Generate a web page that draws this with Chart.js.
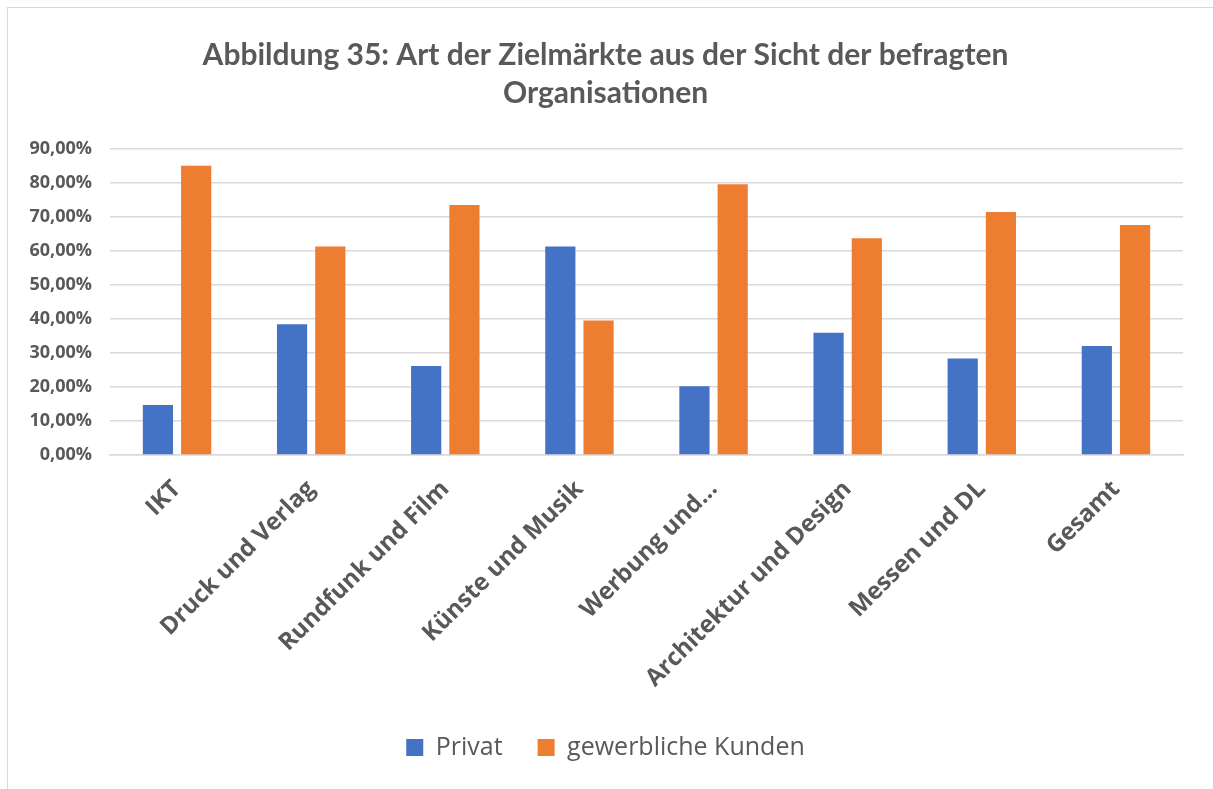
<!DOCTYPE html>
<html>
<head>
<meta charset="utf-8">
<script src="https://cdn.jsdelivr.net/npm/chart.js@4"></script>
<style>
  html, body { margin: 0; padding: 0; background: #fff; }
  #frame {
    position: absolute; left: 7px; top: 7px; width: 1300px; height: 900px;
    border-top: 1.5px solid #d9d9d9; border-left: 1.5px solid #d9d9d9;
  }
  #wrap { position: absolute; left: 0; top: 0; width: 1213px; height: 789px; }
</style>
</head>
<body>
<div id="frame"></div>
<div id="wrap"><canvas id="chartZiel"></canvas></div>
<script>
// Kategorien und Werte (in Prozent)
const categories = ['IKT', 'Druck und Verlag', 'Rundfunk und Film', 'Künste und Musik',
    'Werbung und...', 'Architektur und Design', 'Messen und DL', 'Gesamt'];
const privat = [14.7, 38.5, 26.2, 61.4, 20.2, 36.0, 28.4, 32.1];
const gewerblich = [85.1, 61.4, 73.6, 39.6, 79.7, 63.8, 71.5, 67.7];
const yTicks = [0, 10, 20, 30, 40, 50, 60, 70, 80, 90];

const textGrey = '#595959';
const sansFont = '"Open Sans", sans-serif';
const padLeft = 28;
const padBottom = 19;

function buildChart() {
    const ctx = document.getElementById('chartZiel').getContext('2d');
    new Chart(ctx, {
        type: 'bar',
        data: {
            labels: categories,
            datasets: [
                {
                    label: 'Privat',
                    data: privat,
                    backgroundColor: '#4472C4',
                    categoryPercentage: 0.57,
                    barPercentage: 0.79
                },
                {
                    label: 'gewerbliche Kunden',
                    data: gewerblich,
                    backgroundColor: '#ED7D31',
                    categoryPercentage: 0.57,
                    barPercentage: 0.79
                }
            ]
        },
        options: {
            responsive: true,
            maintainAspectRatio: false,
            animation: false,
            layout: {
                padding: { left: padLeft, right: 30, top: 0, bottom: padBottom }
            },
            plugins: {
                title: {
                    display: true,
                    text: ['Abbildung 35: Art der Zielmärkte aus der Sicht der befragten', 'Organisationen'],
                    color: textGrey,
                    font: { family: 'Lato', size: 30, weight: 'bold', lineHeight: 1.27 },
                    padding: { top: 36, bottom: 37 }
                },
                legend: {
                    position: 'bottom',
                    labels: {
                        color: textGrey,
                        font: { family: sansFont, size: 25 },
                        boxWidth: 17,
                        boxHeight: 17,
                        padding: 35
                    }
                },
                tooltip: { enabled: false }
            },
            scales: {
                y: {
                    min: 0,
                    max: 90,
                    afterFit: scale => { scale.width = 110 - padLeft; },
                    afterBuildTicks: scale => {
                        scale.ticks = yTicks.map(v => ({ value: v }));
                    },
                    ticks: {
                        color: textGrey,
                        padding: 18,
                        font: { family: sansFont, size: 18, weight: 'bold' },
                        callback: v => v.toFixed(2).replace('.', ',') + '%'
                    },
                    grid: { color: '#d9d9d9', lineWidth: 1.5, drawTicks: false },
                    border: { display: false }
                },
                x: {
                    // Plotbereich unten bei y=455 festhalten
                    afterFit: scale => {
                        const legendH = scale.chart.legend ? scale.chart.legend.height : 0;
                        scale.height = 789 - padBottom - legendH - 455;
                    },
                    ticks: {
                        color: textGrey,
                        font: { family: sansFont, size: 24, weight: 'bold' },
                        minRotation: 45,
                        maxRotation: 45,
                        padding: 12
                    },
                    grid: { display: false },
                    border: { color: '#d9d9d9', width: 1.5 }
                }
            }
        }
    });
}

Promise.all([
    document.fonts.load('bold 24px "Open Sans"'),
    document.fonts.load('25px "Open Sans"'),
    document.fonts.load('bold 30px Lato')
]).then(buildChart, buildChart);
</script>
</body>
</html>
